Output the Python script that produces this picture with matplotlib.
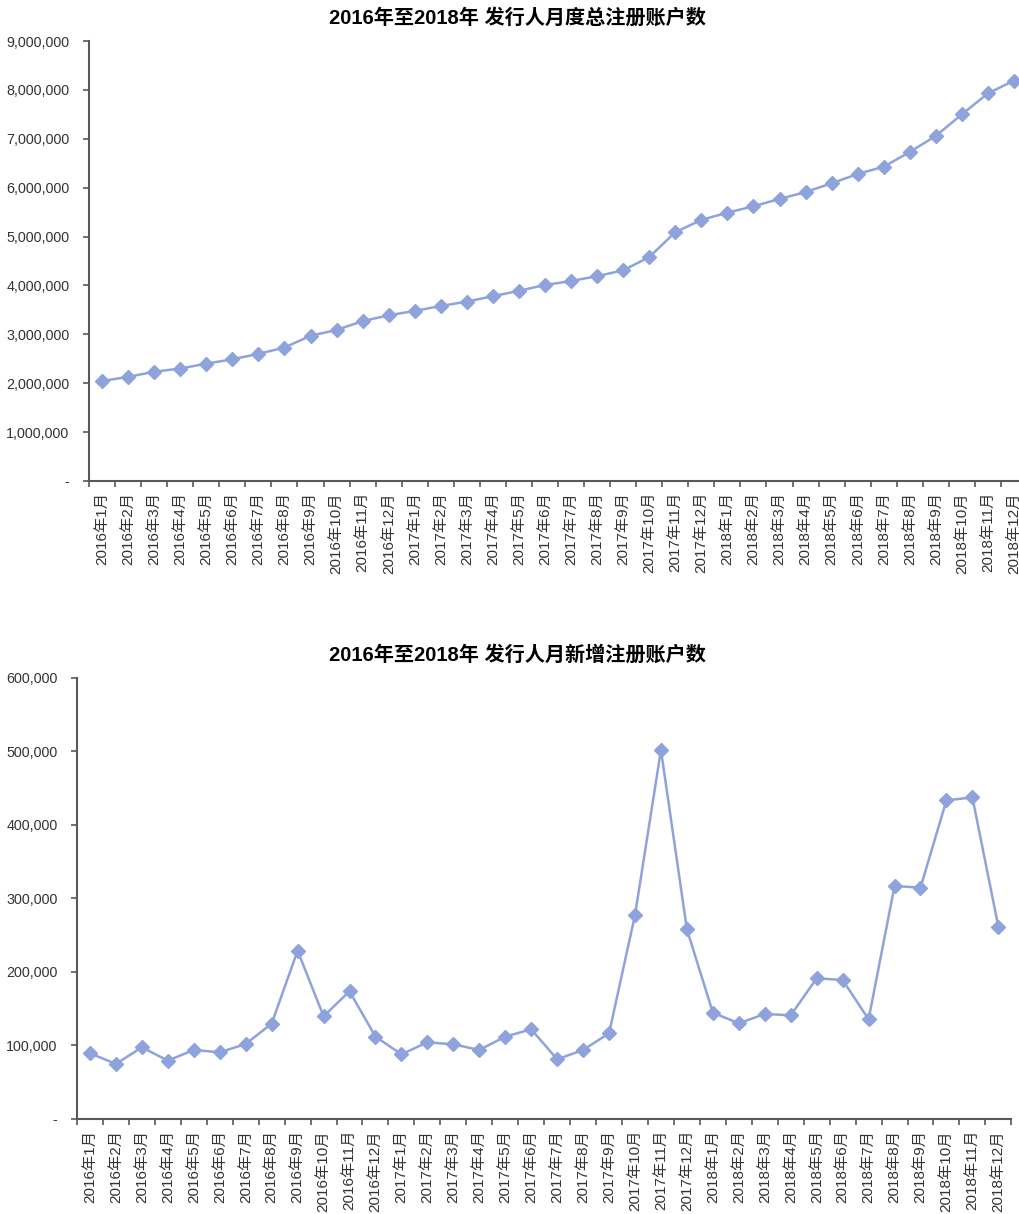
import numpy as np
import matplotlib
matplotlib.use("Agg")
import matplotlib.pyplot as plt
from matplotlib.ticker import FuncFormatter

plt.rcParams['font.family'] = ['Liberation Sans', 'Noto Sans CJK SC', 'DejaVu Sans']

months = [f"{y}年{m}月" for y in (2016, 2017, 2018) for m in range(1, 13)]

total_accounts = [
    2045000, 2130000, 2235000, 2300000, 2400000, 2490000,
    2600000, 2730000, 2970000, 3090000, 3270000, 3390000,
    3480000, 3580000, 3670000, 3780000, 3890000, 4010000,
    4090000, 4190000, 4310000, 4580000, 5090000, 5340000,
    5490000, 5620000, 5770000, 5910000, 6090000, 6280000,
    6430000, 6730000, 7060000, 7500000, 7930000, 8190000,
]

new_accounts = [
    89300, 74800, 97400, 79300, 93800, 90600,
    101900, 129600, 228800, 139600, 173500, 111900,
    87900, 104200, 101500, 93800, 111900, 121900,
    81100, 93800, 116400, 277300, 501600, 257800,
    144500, 130000, 142700, 140900, 191200, 188900,
    135500, 316700, 314500, 433200, 437200, 261400,
]

title_top = "2016年至2018年 发行人月度总注册账户数"
title_bottom = "2016年至2018年 发行人月新增注册账户数"

LINE = "#8EA3DB"
AXIS = "#595959"
TEXT = "#333333"


def fmt(v, pos):
    if v == 0:
        return "-"
    return f"{int(v):,}"


def draw(ax, values, ymax, step, title, title_y):
    x = np.arange(len(values))
    ax.plot(x, values, color=LINE, lw=1.8, marker="D", ms=7,
            markerfacecolor=LINE, markeredgecolor=LINE)
    ax.set_xlim(-0.5, len(values) - 0.5)
    ax.set_ylim(0, ymax)
    ax.set_yticks(np.arange(0, ymax + 1, step))
    ax.yaxis.set_major_formatter(FuncFormatter(fmt))
    ax.set_xticks(np.arange(-0.5, len(values), 1))
    ax.set_xticklabels([])
    ax.set_xticks(x, months, minor=True)
    ax.tick_params(axis="x", which="minor", length=0, rotation=90,
                   labelsize=11, colors=TEXT, pad=8)
    ax.tick_params(axis="x", which="major", length=4, color=AXIS, width=1.2)
    ax.tick_params(axis="y", length=4, color=AXIS, width=1.2,
                   labelsize=10.3, labelcolor=TEXT, pad=10)
    for s in ("top", "right"):
        ax.spines[s].set_visible(False)
    for s in ("left", "bottom"):
        ax.spines[s].set_color(AXIS)
        ax.spines[s].set_linewidth(1.5)
    ax.figure.text(0.507, title_y, title, ha="center", va="center",
                   fontsize=14.5, fontweight="bold", color="black")


fig = plt.figure(figsize=(10.2, 12.14), dpi=100)
ax1 = fig.add_axes([0.0873, 0.6038, 0.9196, 0.3624])
ax2 = fig.add_axes([0.0755, 0.0783, 0.916, 0.3635])

draw(ax1, total_accounts, 9000000, 1000000, title_top, 1 - 18 / 1214)
draw(ax2, new_accounts, 600000, 100000, title_bottom, 1 - 655 / 1214)

fig.savefig("out.png", dpi=100)
